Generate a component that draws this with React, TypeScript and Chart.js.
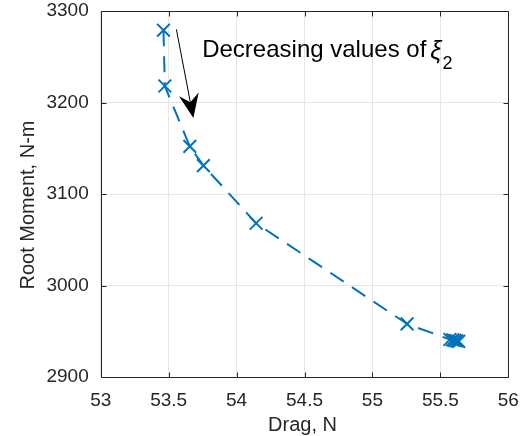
import React, { useEffect, useRef } from "react";
import { Chart, registerables } from "chart.js";

Chart.register(...registerables);

// Data
const dragN = [53.462, 53.472, 53.656, 53.756, 54.144, 55.255, 55.57, 55.59, 55.605, 55.62, 55.635];
const rootMoment = [3279, 3218, 3152, 3131, 3068, 2958, 2941, 2940.5, 2940, 2939.5, 2939];
const xTicks = [53, 53.5, 54, 54.5, 55, 55.5, 56];
const yTicks = [2900, 3000, 3100, 3200, 3300];
const xTitle = "Drag, N";
const yTitle = "Root Moment, N-m";
const annotationText = "Decreasing values of";
const annotationSymbol = "ξ";
const annotationSub = "2";

const FONT = "'Liberation Sans', Arial, Helvetica, sans-serif";
const AXIS_COLOR = "#262626";
const LINE_COLOR = "#0072BD";

const zeroPad = (scale: any) => {
  scale.paddingLeft = 0;
  scale.paddingRight = 0;
  scale.paddingTop = 0;
  scale.paddingBottom = 0;
};

const matlabPlugin = {
  id: "matlabDecor",
  afterDraw(chart: any) {
    const { ctx, chartArea: a, scales } = chart;
    const xs = scales.x;
    const ys = scales.y;
    ctx.save();

    // box
    ctx.strokeStyle = AXIS_COLOR;
    ctx.lineWidth = 1;
    const L = Math.round(a.left) + 0.5;
    const R = Math.round(a.right) + 0.5;
    const T = Math.round(a.top) + 0.5;
    const B = Math.round(a.bottom) + 0.5;
    ctx.beginPath();
    ctx.rect(L, T, R - L, B - T);
    // inward ticks
    const tl = 5;
    for (const v of xTicks) {
      const px = Math.round(xs.getPixelForValue(v)) + 0.5;
      ctx.moveTo(px, B);
      ctx.lineTo(px, B - tl);
      ctx.moveTo(px, T);
      ctx.lineTo(px, T + tl);
    }
    for (const v of yTicks) {
      const py = Math.round(ys.getPixelForValue(v)) + 0.5;
      ctx.moveTo(L, py);
      ctx.lineTo(L + tl, py);
      ctx.moveTo(R, py);
      ctx.lineTo(R - tl, py);
    }
    ctx.stroke();

    // axis titles
    ctx.fillStyle = AXIS_COLOR;
    ctx.font = `20px ${FONT}`;
    ctx.textAlign = "center";
    ctx.textBaseline = "alphabetic";
    ctx.fillText(xTitle, (a.left + a.right) / 2 - 2, 431);
    ctx.save();
    ctx.translate(34, (a.top + a.bottom) / 2 + 11);
    ctx.rotate(-Math.PI / 2);
    ctx.fillText(yTitle, 0, 0);
    ctx.restore();

    // annotation arrow
    const x0 = xs.getPixelForValue(53.557);
    const y0 = ys.getPixelForValue(3280);
    const x1 = xs.getPixelForValue(53.682);
    const y1 = ys.getPixelForValue(3183);
    const dx = x1 - x0;
    const dy = y1 - y0;
    const len = Math.hypot(dx, dy);
    const ux = dx / len;
    const uy = dy / len;
    const nx = -uy;
    const ny = ux;
    const headLen = 24;
    const headHalf = 10;
    const notch = 8;
    ctx.strokeStyle = "#000";
    ctx.fillStyle = "#000";
    ctx.lineWidth = 1;
    ctx.beginPath();
    ctx.moveTo(x0, y0);
    ctx.lineTo(x1 - ux * (headLen - notch), y1 - uy * (headLen - notch));
    ctx.stroke();
    ctx.beginPath();
    ctx.moveTo(x1, y1);
    ctx.lineTo(x1 - ux * headLen + nx * headHalf, y1 - uy * headLen + ny * headHalf);
    ctx.lineTo(x1 - ux * (headLen - notch), y1 - uy * (headLen - notch));
    ctx.lineTo(x1 - ux * headLen - nx * headHalf, y1 - uy * headLen - ny * headHalf);
    ctx.closePath();
    ctx.fill();

    // annotation text
    const tx = xs.getPixelForValue(53.747);
    const ty = ys.getPixelForValue(3250);
    ctx.textAlign = "left";
    ctx.textBaseline = "alphabetic";
    ctx.fillStyle = "#000";
    ctx.font = `24px ${FONT}`;
    ctx.fillText(annotationText, tx, ty);
    const w = ctx.measureText(annotationText).width;
    ctx.font = `italic 25px ${FONT}`;
    ctx.fillText(annotationSymbol, tx + w + 4, ty + 2);
    const ws = ctx.measureText(annotationSymbol).width;
    ctx.font = `18px ${FONT}`;
    ctx.fillText(annotationSub, tx + w + 4 + ws + 1, ty + 12);

    ctx.restore();
  },
};

export default function App() {
  const ref = useRef<HTMLCanvasElement | null>(null);

  useEffect(() => {
    if (!ref.current) return;
    const points = dragN.map((x, i) => ({ x, y: rootMoment[i] }));
    const chart = new Chart(ref.current, {
      type: "scatter",
      data: {
        datasets: [
          {
            data: points,
            showLine: true,
            borderColor: LINE_COLOR,
            borderWidth: 2,
            borderDash: [16, 10],
            fill: false,
            tension: 0,
            pointStyle: "crossRot",
            pointRadius: 9,
            pointHoverRadius: 9,
            pointBorderWidth: 2,
            pointBorderColor: LINE_COLOR,
            pointBackgroundColor: LINE_COLOR,
          },
        ],
      },
      options: {
        animation: false,
        responsive: false,
        devicePixelRatio: 1,
        layout: { padding: { left: 0, right: 17.7, top: 11, bottom: 0 } },
        plugins: {
          legend: { display: false },
          tooltip: { enabled: false },
          title: { display: false },
        },
        scales: {
          x: {
            type: "linear",
            min: 53,
            max: 56,
            afterBuildTicks: (scale: any) => {
              scale.ticks = xTicks.map((v) => ({ value: v }));
            },
            afterFit: (scale: any) => {
              scale.height = 59;
              zeroPad(scale);
            },
            ticks: {
              color: AXIS_COLOR,
              font: { family: FONT, size: 19 },
              padding: 12,
              maxRotation: 0,
              autoSkip: false,
              callback: (v: any) => String(v),
            },
            grid: { color: "#e6e6e6", lineWidth: 1, drawTicks: false },
            border: { display: false },
          },
          y: {
            type: "linear",
            min: 2900,
            max: 3300,
            afterBuildTicks: (scale: any) => {
              scale.ticks = yTicks.map((v) => ({ value: v }));
            },
            afterFit: (scale: any) => {
              scale.width = 100.7;
              zeroPad(scale);
            },
            ticks: {
              color: AXIS_COLOR,
              font: { family: FONT, size: 19 },
              padding: 12,
              autoSkip: false,
              callback: (v: any) => String(v),
            },
            grid: { color: "#e6e6e6", lineWidth: 1, drawTicks: false },
            border: { display: false },
          },
        },
      },
      plugins: [matlabPlugin],
    });
    return () => chart.destroy();
  }, []);

  return (
    <div style={{ position: "absolute", left: 0, top: 0, width: 526, height: 436, background: "#fff" }}>
      <canvas ref={ref} width={526} height={436} style={{ display: "block" }} />
    </div>
  );
}
